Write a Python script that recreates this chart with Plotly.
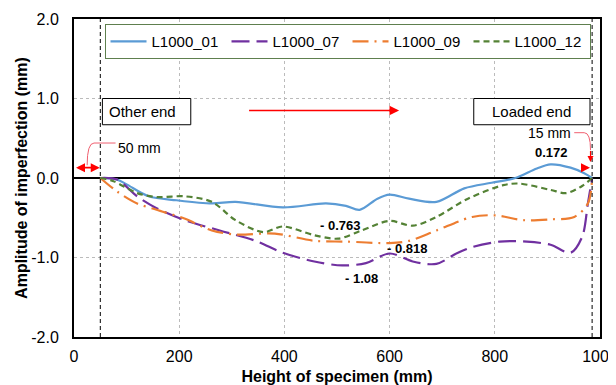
import plotly.graph_objects as go

# ---- data ----
x01 = [50, 82, 100, 142, 195, 262, 307, 397, 479, 517, 543, 577, 600, 637, 689, 742, 794, 839, 880, 906, 944, 970, 985]
y01 = [0.0, -0.02, -0.08, -0.23, -0.28, -0.32, -0.30, -0.37, -0.32, -0.35, -0.40, -0.26, -0.21, -0.26, -0.30, -0.13, -0.06, 0.0, 0.12, 0.172, 0.13, 0.06, 0.0]

x07 = [50, 82, 120, 157, 210, 277, 345, 397, 457, 510, 555, 600, 644, 689, 727, 757, 809, 861, 906, 944, 966, 977, 985]
y07 = [0.0, -0.02, -0.23, -0.38, -0.53, -0.66, -0.79, -0.94, -1.05, -1.10, -1.07, -0.95, -1.05, -1.08, -0.95, -0.87, -0.80, -0.80, -0.84, -0.94, -0.74, -0.32, 0.0]

x09 = [50, 82, 120, 157, 210, 262, 307, 382, 457, 517, 600, 637, 689, 757, 801, 854, 906, 951, 977, 985]
y09 = [0.0, -0.17, -0.32, -0.40, -0.51, -0.66, -0.71, -0.70, -0.79, -0.80, -0.818, -0.79, -0.66, -0.49, -0.47, -0.53, -0.52, -0.49, -0.32, 0.0]

x12 = [50, 75, 120, 157, 210, 262, 307, 360, 397, 457, 502, 547, 600, 644, 689, 749, 816, 846, 906, 936, 966, 985]
y12 = [0.0, -0.04, -0.19, -0.24, -0.23, -0.30, -0.53, -0.68, -0.61, -0.72, -0.763, -0.66, -0.54, -0.60, -0.49, -0.26, -0.09, -0.07, -0.15, -0.19, -0.10, 0.0]

names = ["L1000_01", "L1000_07", "L1000_09", "L1000_12"]
colors = ["#5B9BD5", "#7030A0", "#ED7D31", "#548235"]
dashes = ["solid", "18px,7px", "16px,6px,2px,6px", "6px,4px"]

xticks = [0, 200, 400, 600, 800, 1000]
yticks = [-2.0, -1.0, 0.0, 1.0, 2.0]
ytick_text = ["-2.0", "-1.0", "0.0", "1.0", "2.0"]

peak_labels = [(908, 0.32, "0.172"), (506, -0.60, "- 0.763"), (634, -0.885, "- 0.818"), (547, -1.26, "- 1.08")]

FONT = "Liberation Sans, Arial, sans-serif"
RED = "#FF0000"
CLEAR = "rgba(255,255,255,0)"

fig = go.Figure()
for xs, ys, n, c, d in zip([x01, x07, x09, x12], [y01, y07, y09, y12], names, colors, dashes):
    fig.add_trace(go.Scatter(x=xs, y=ys, name=n, mode="lines",
                             line=dict(color=c, width=2.2, dash=d, shape="spline", smoothing=0.9)))

shapes = [
    dict(type="line", xref="x", yref="y", x0=50, x1=50, y0=-2, y1=2, line=dict(color="black", width=1, dash="4px,3px")),
    dict(type="line", xref="x", yref="y", x0=985, x1=985, y0=-2, y1=2, line=dict(color="black", width=1, dash="4px,3px")),
    dict(type="rect", xref="x", yref="y", x0=54, x1=222, y0=0.67, y1=1.0, line=dict(color="black", width=1), fillcolor="white"),
    dict(type="rect", xref="x", yref="y", x0=760, x1=981, y0=0.67, y1=1.0, line=dict(color="black", width=1), fillcolor="white"),
    dict(type="path", xref="x", yref="y", path="M 79,0.44 L 38,0.44 Q 25,0.44 25,0.16", line=dict(color="#F06070", width=1)),
    dict(type="path", xref="x", yref="y", path="M 951,0.57 L 970,0.57 Q 982,0.57 982,0.35", line=dict(color="#F06070", width=1)),
]

annotations = [
    dict(x=62, y=0.835, xref="x", yref="y", text="Other end", showarrow=False, xanchor="left",
         font=dict(family=FONT, size=15, color="black")),
    dict(x=870, y=0.835, xref="x", yref="y", text="Loaded end", showarrow=False, xanchor="center",
         font=dict(family=FONT, size=15, color="black")),
    # big red direction arrow
    dict(x=618, y=0.85, ax=330, ay=0.85, xref="x", yref="y", axref="x", ayref="y", text="",
         showarrow=True, arrowhead=2, arrowsize=1.2, arrowwidth=1.6, arrowcolor=RED),
    # 50 mm
    dict(x=124, y=0.38, xref="x", yref="y", text="50 mm", showarrow=False,
         font=dict(family=FONT, size=14, color="black")),
    dict(x=49, y=0.13, ax=1, ay=0.13, xref="x", yref="y", axref="x", ayref="y", text="",
         showarrow=True, arrowhead=2, arrowside="end+start", arrowsize=1, arrowwidth=1.8, arrowcolor=RED),
    # 15 mm
    dict(x=904, y=0.57, xref="x", yref="y", text="15 mm", showarrow=False,
         font=dict(family=FONT, size=14, color="black")),
    dict(x=982, y=0.2, ax=982, ay=0.36, xref="x", yref="y", axref="x", ayref="y", text="",
         showarrow=True, arrowhead=2, arrowsize=1, arrowwidth=1.2, arrowcolor=RED),
    dict(x=981, y=0.13, ax=962, ay=0.13, xref="x", yref="y", axref="x", ayref="y", text="",
         showarrow=True, arrowhead=2, arrowsize=1, arrowwidth=1.8, arrowcolor=RED),
    dict(x=1004, y=0.13, ax=1026, ay=0.13, xref="x", yref="y", axref="x", ayref="y", text="",
         showarrow=True, arrowhead=2, arrowsize=1, arrowwidth=1.8, arrowcolor=RED),
]
for px_, py_, t in peak_labels:
    annotations.append(dict(x=px_, y=py_, xref="x", yref="y", text="<b>" + t + "</b>", showarrow=False,
                            font=dict(family=FONT, size=13, color="black")))

# the page body adds an 8px margin, so the figure is sized/offset to compensate
fig.update_layout(
    width=616, height=377,
    margin=dict(l=66, r=24, t=11, b=48),
    paper_bgcolor="white", plot_bgcolor="white",
    font=dict(family=FONT, size=16, color="black"),
    shapes=shapes, annotations=annotations,
    legend=dict(orientation="h", x=0.058, y=0.984, xanchor="left", yanchor="top",
                bordercolor="#5E7F4E", borderwidth=1, bgcolor="white",
                font=dict(family=FONT, size=15, color="black"),
                entrywidth=70, entrywidthmode="pixels", itemwidth=36, tracegroupgap=0),
    xaxis=dict(range=[0, 1000], tickvals=xticks, showgrid=True, gridcolor="#BBBBBB", griddash="dot", gridwidth=1,
               showline=True, mirror=True, linecolor="black", linewidth=2, zeroline=False, automargin=False,
               ticks="outside", ticklen=4, tickcolor=CLEAR, tickfont=dict(size=16), ticklabeloverflow="allow",
               title=dict(text="<b>Height of specimen (mm)</b>", font=dict(size=16), standoff=8)),
    yaxis=dict(range=[-2, 2], tickvals=yticks, ticktext=ytick_text, showgrid=True, gridcolor="#BBBBBB",
               griddash="dot", gridwidth=1, automargin=False,
               showline=True, mirror=True, linecolor="black", linewidth=2,
               zeroline=True, zerolinecolor="black", zerolinewidth=1.5,
               ticks="outside", ticklen=10, tickcolor=CLEAR, tickfont=dict(size=16),
               title=dict(text="<b>Amplitude of imperfection (mm)</b>", font=dict(size=16), standoff=0)),
)

fig.write_html("out.html")
